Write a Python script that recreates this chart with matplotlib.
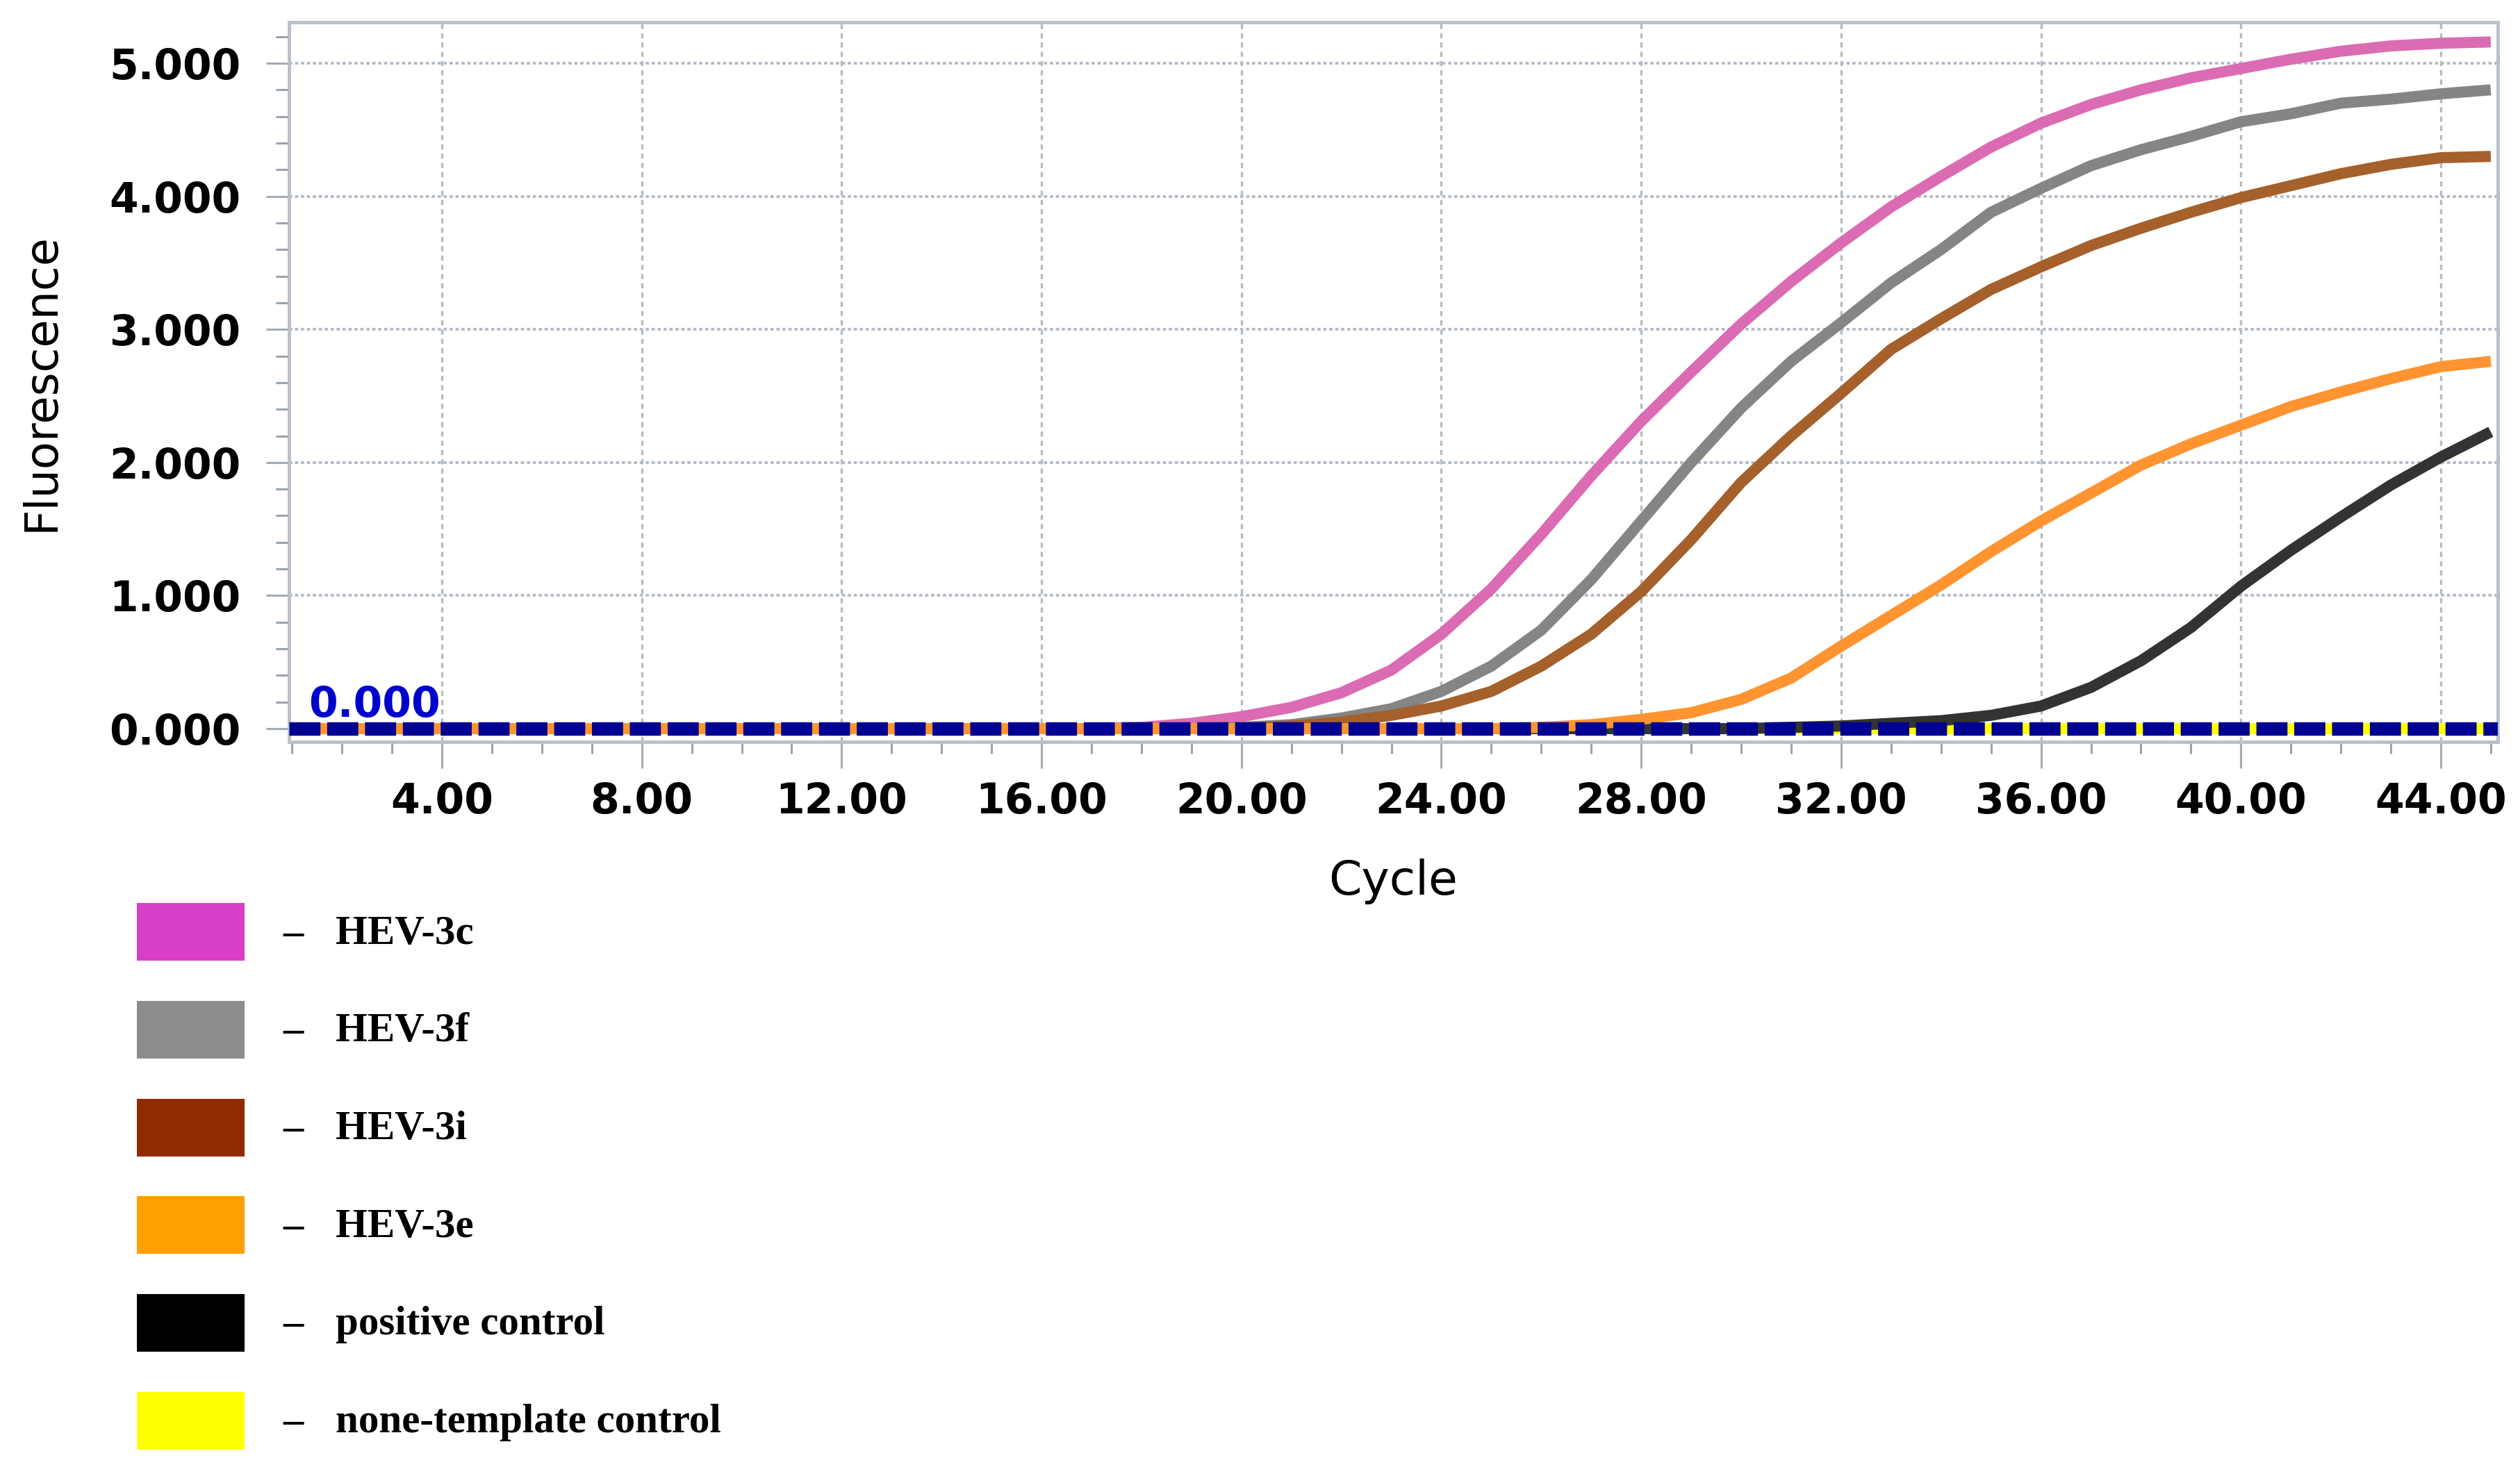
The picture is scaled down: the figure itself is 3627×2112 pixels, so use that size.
import matplotlib

matplotlib.use("Agg")

import matplotlib.pyplot as plt
from matplotlib import font_manager
from matplotlib.patches import Rectangle
from matplotlib.ticker import FormatStrFormatter, MultipleLocator


W, H = 3627, 2112

CYCLES = list(range(1, 46))

HEV_3C = [0.0] * 17 + [
    0.01, 0.04, 0.09, 0.16, 0.27, 0.44, 0.71, 1.05, 1.46, 1.90, 2.31, 2.68,
    3.04, 3.36, 3.65, 3.92, 4.15, 4.37, 4.55, 4.69, 4.80, 4.89, 4.96, 5.03,
    5.09, 5.13, 5.15, 5.16,
]
HEV_3F = [0.0] * 19 + [
    0.01, 0.03, 0.08, 0.15, 0.28, 0.47, 0.74, 1.12, 1.56, 2.00, 2.41, 2.76,
    3.05, 3.35, 3.60, 3.88, 4.06, 4.23, 4.35, 4.45, 4.56, 4.62, 4.70, 4.73,
    4.77, 4.80,
]
HEV_3I = [0.0] * 20 + [
    0.02, 0.05, 0.10, 0.17, 0.28, 0.47, 0.71, 1.03, 1.42, 1.85, 2.20, 2.52,
    2.85, 3.08, 3.30, 3.47, 3.63, 3.76, 3.88, 3.99, 4.08, 4.17, 4.24, 4.29,
    4.30,
]
HEV_3E = [0.0] * 25 + [
    0.01, 0.03, 0.07, 0.12, 0.22, 0.38, 0.62, 0.85, 1.08, 1.33, 1.56, 1.77,
    1.98, 2.14, 2.28, 2.42, 2.53, 2.63, 2.72, 2.76,
]
POSITIVE = [0.0] * 30 + [
    0.01, 0.02, 0.04, 0.06, 0.10, 0.17, 0.31, 0.51, 0.76, 1.07, 1.34, 1.59,
    1.83, 2.04, 2.23,
]
NTC = [0.0] * 45

# drawing order: the flat ones on top decide the colour seen between the dashes
SERIES = [NTC, HEV_3C, HEV_3F, HEV_3I, POSITIVE, HEV_3E]
CURVE_COLORS = ["#ffff00", "#db6bb3", "#858585", "#a5602b", "#333333", "#ff9430"]

LEGEND_LABELS = [
    "HEV-3c", "HEV-3f", "HEV-3i", "HEV-3e", "positive control",
    "none-template control",
]
LEGEND_COLORS = ["#d93ec6", "#8c8c8c", "#922a00", "#ff9f00", "#000000", "#ffff00"]

THRESHOLD = 0.0
GRID_COLOR = "#b3bbc4"


def _has_font(name):
    try:
        font_manager.findfont(
            font_manager.FontProperties(family=name), fallback_to_default=False
        )
        return True
    except ValueError:
        return False


if _has_font("Liberation Sans Narrow"):
    NARROW, NARROW_SCALE = "Liberation Sans Narrow", 1.0
else:
    NARROW, NARROW_SCALE = "DejaVu Sans", 0.72


def fig_xy(px, py):
    return px / W, 1 - py / H


fig = plt.figure(figsize=(W / 100, H / 100), dpi=100)
ax = fig.add_axes([416 / W, 1 - 1068 / H, (3595 - 416) / W, (1068 - 32) / H])

for values, color in zip(SERIES, CURVE_COLORS):
    ax.plot(CYCLES, values, color=color, linewidth=11.5, solid_capstyle="butt",
            solid_joinstyle="round", zorder=3)

ax.axhline(THRESHOLD, color="#000090", linewidth=14, dashes=(2.3, 0.5),
           zorder=4)
ax.text(0.009, 0.035, f"{THRESHOLD:.3f}", transform=ax.transAxes,
        ha="left", va="baseline", color="#0000cc", fontweight="bold",
        family=NARROW, fontsize=60 * NARROW_SCALE, zorder=5)

ax.set_xlim(0.942, 45.14)
ax.set_ylim(-0.099, 5.308)

ax.xaxis.set_major_locator(MultipleLocator(4))
ax.xaxis.set_minor_locator(MultipleLocator(1))
ax.xaxis.set_major_formatter(FormatStrFormatter("%.2f"))
ax.yaxis.set_major_locator(MultipleLocator(1))
ax.yaxis.set_minor_locator(MultipleLocator(0.2))
ax.yaxis.set_major_formatter(FormatStrFormatter("%.3f"))

ax.grid(axis="x", which="major", color=GRID_COLOR, linewidth=2.4,
        dashes=(2.2, 1.8))
ax.grid(axis="y", which="major", color=GRID_COLOR, linewidth=2.8,
        dashes=(1.2, 1.0))
ax.set_axisbelow(True)

for spine in ax.spines.values():
    spine.set_color("#b9c0c7")
    spine.set_linewidth(3.5)

ax.tick_params(axis="x", which="major", length=27, width=2.2,
               color="#a3abb3", pad=14)
ax.tick_params(axis="x", which="minor", length=12, width=2.2, color="#9aa3ac")
ax.tick_params(axis="y", which="major", length=24, width=2.2,
               color="#a3abb3", pad=26)
ax.tick_params(axis="y", which="minor", length=14, width=2.2, color="#9aa3ac")

for label in ax.get_yticklabels():
    label.set_fontfamily("DejaVu Sans")
    label.set_fontweight("bold")
    label.set_fontsize(43)
for label in ax.get_xticklabels():
    label.set_fontfamily(NARROW)
    label.set_fontweight("bold")
    label.set_fontsize(60 * NARROW_SCALE)

ax.set_xlabel("Cycle", family=NARROW, fontsize=68 * NARROW_SCALE, va="top")
ax.xaxis.set_label_coords(0.5, -0.162)
ax.set_ylabel("Fluorescence", family="DejaVu Sans", fontsize=47, va="center")
ax.yaxis.set_label_coords(-0.112, 0.5)

# legend below the plot: colour box, dash, label
for i, (label, color) in enumerate(zip(LEGEND_LABELS, LEGEND_COLORS)):
    yc = 1341.6 + i * 140.7
    x0, y0 = fig_xy(197, yc + 41.5)
    fig.add_artist(Rectangle((x0, y0), 155 / W, 83 / H,
                             transform=fig.transFigure, facecolor=color,
                             edgecolor="none"))
    tx, ty = fig_xy(422, yc + 17)
    fig.text(tx, ty, "\u2013", ha="center", va="baseline",
             family="Liberation Serif", fontweight="bold", fontsize=42)
    tx, ty = fig_xy(483, yc + 17)
    fig.text(tx, ty, label, ha="left", va="baseline",
             family="Liberation Serif", fontweight="bold", fontsize=42.5)

fig.savefig("out.png", dpi=100)
